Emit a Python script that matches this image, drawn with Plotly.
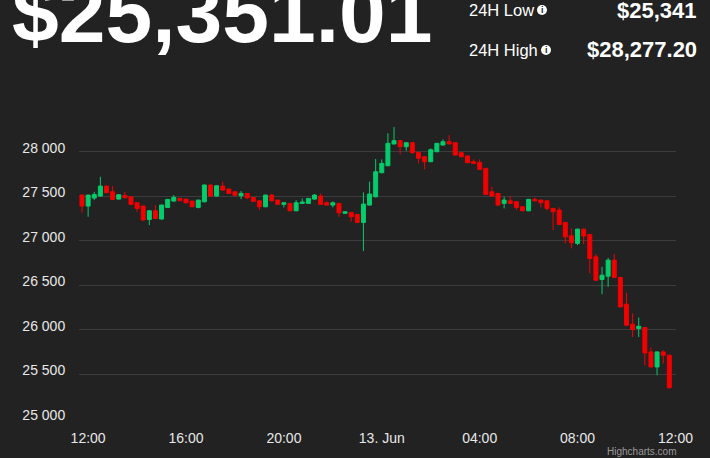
import plotly.graph_objects as go
import pandas as pd

# ---------------- data ----------------
times = pd.date_range("2023-06-12 11:45", periods=97, freq="15min")

opens = [27513, 27390, 27480, 27502, 27614, 27550, 27468, 27510, 27494, 27427,
         27390, 27240, 27337, 27244, 27375, 27446, 27476, 27468, 27446, 27375,
         27438, 27626, 27502, 27614, 27581, 27550, 27506, 27532, 27487, 27449,
         27382, 27513, 27457, 27409, 27420, 27337, 27420, 27420, 27468, 27502,
         27427, 27401, 27420, 27308, 27319, 27296, 27206, 27401, 27494, 27764,
         27843, 28087, 28124, 28056, 28101, 27993, 27944, 27888, 28000, 28075,
         28112, 28101, 27989, 27952, 27888, 27880, 27813, 27550, 27532, 27420,
         27449, 27438, 27382, 27337, 27465, 27457, 27449, 27364, 27345, 27206,
         27056, 26971, 27131, 27071, 26820, 26566, 26603, 26783, 26589, 26289,
         26064, 26016, 26027, 25753, 25584, 25753, 25716]
highs = [27520, 27518, 27550, 27719, 27625, 27614, 27522, 27550, 27500, 27432,
         27395, 27342, 27401, 27406, 27470, 27513, 27482, 27472, 27450, 27462,
         27632, 27630, 27622, 27663, 27586, 27555, 27558, 27537, 27492, 27454,
         27518, 27525, 27462, 27435, 27425, 27457, 27476, 27481, 27525, 27532,
         27446, 27442, 27425, 27332, 27324, 27301, 27543, 27663, 27918, 27914,
         28207, 28277, 28129, 28106, 28106, 27998, 27949, 28038, 28099, 28139,
         28187, 28106, 28000, 27957, 27914, 27914, 27818, 27607, 27537, 27494,
         27502, 27443, 27387, 27470, 27487, 27462, 27454, 27369, 27375, 27211,
         27139, 27136, 27136, 27076, 26851, 26708, 26809, 26851, 26594, 26416,
         26184, 26139, 26032, 25802, 25758, 25772, 25721]
lows = [27315, 27270, 27457, 27495, 27535, 27460, 27462, 27478, 27402, 27326,
        27228, 27176, 27244, 27238, 27370, 27440, 27445, 27422, 27376, 27364,
        27432, 27496, 27496, 27564, 27526, 27500, 27468, 27468, 27438, 27345,
        27376, 27444, 27404, 27375, 27332, 27332, 27415, 27415, 27462, 27404,
        27396, 27375, 27270, 27303, 27214, 27200, 26884, 27396, 27488, 27758,
        27838, 28082, 27971, 28011, 27980, 27869, 27802, 27883, 27995, 28070,
        28082, 27958, 27939, 27872, 27864, 27797, 27516, 27497, 27396, 27364,
        27415, 27345, 27332, 27332, 27442, 27375, 27340, 27120, 27179, 26971,
        26915, 26952, 26963, 26634, 26553, 26401, 26483, 26584, 26253, 26048,
        25921, 25921, 25603, 25579, 25491, 25622, 25341]
closes = [27390, 27513, 27520, 27614, 27540, 27465, 27517, 27483, 27409, 27364,
          27233, 27337, 27250, 27401, 27465, 27488, 27450, 27427, 27382, 27457,
          27626, 27502, 27618, 27569, 27532, 27510, 27532, 27483, 27443, 27382,
          27513, 27449, 27409, 27427, 27337, 27427, 27435, 27476, 27513, 27409,
          27401, 27427, 27315, 27326, 27270, 27206, 27412, 27525, 27775, 27869,
          28094, 28124, 28056, 28101, 27989, 27926, 27888, 28022, 28094, 28112,
          28087, 27963, 27944, 27877, 27869, 27802, 27521, 27502, 27401, 27457,
          27420, 27375, 27337, 27465, 27449, 27427, 27364, 27326, 27184, 27045,
          26978, 27131, 27053, 26802, 26558, 26614, 26783, 26589, 26258, 26053,
          26004, 26041, 25742, 25584, 25753, 25716, 25351]

y_tickvals = [25000, 25500, 26000, 26500, 27000, 27500, 28000]
y_ticktext = ["25 000", "25 500", "26 000", "26 500", "27 000", "27 500", "28 000"]
x_tickvals = ["2023-06-12 12:00", "2023-06-12 16:00", "2023-06-12 20:00",
              "2023-06-13 00:00", "2023-06-13 04:00", "2023-06-13 08:00",
              "2023-06-13 12:00"]
x_ticktext = ["12:00", "16:00", "20:00", "13. Jun", "04:00", "08:00", "12:00"]

price_text = "$25,351.01"
low_label, low_value = "24H Low", "$25,341"
high_label, high_value = "24H High", "$28,277.20"

# ---------------- style ----------------
BG = "#222222"
GREEN = "#04cc6c"
RED = "#f20000"
GRID = "#3c3c3c"
TXT = "#e8e8e8"
FONT = "Liberation Sans, Arial, sans-serif"

W, H = 710, 458
L, R, T, B = 79, 34, 120, 39
PW, PH = W - L - R, H - T - B


def px(x):
    return (x - L) / PW


def py(y):
    return (H - B - y) / PH


fig = go.Figure()
fig.add_trace(go.Candlestick(
    x=times, open=opens, high=highs, low=lows, close=closes,
    increasing=dict(line=dict(color=GREEN, width=1), fillcolor=GREEN),
    decreasing=dict(line=dict(color=RED, width=1), fillcolor=RED),
    whiskerwidth=0, showlegend=False, hoverinfo="x+y",
))

fig.update_layout(
    width=W, height=H,
    margin=dict(l=L, r=R, t=T, b=B, autoexpand=False),
    paper_bgcolor=BG, plot_bgcolor=BG,
    boxgap=0.35, boxgroupgap=0,
    font=dict(family=FONT, color=TXT),
    showlegend=False,
    xaxis=dict(
        type="date", rangeslider=dict(visible=False),
        range=["2023-06-12 11:37:36", "2023-06-13 12:01:24"],
        tickvals=x_tickvals, ticktext=x_ticktext,
        showgrid=False, zeroline=False, showline=False,
        ticks="outside", ticklen=6, tickcolor=BG,
        tickfont=dict(size=14, color=TXT, family=FONT),
    ),
    yaxis=dict(
        range=[25000, 28356],
        tickvals=y_tickvals, ticktext=y_ticktext,
        showgrid=True, gridcolor=GRID, gridwidth=1,
        zeroline=False, showline=False,
        ticks="outside", ticklen=10, tickcolor=BG,
        ticklabelshift=-4,
        tickfont=dict(size=14, color=TXT, family=FONT),
    ),
)

ann = []
ann.append(dict(text=price_text, x=px(10), y=py(13), xref="paper", yref="paper",
                xanchor="left", yanchor="middle", showarrow=False,
                font=dict(family=FONT, size=84, color="#ffffff", weight="bold")))
ann.append(dict(text=low_label, x=px(467), y=py(10), xref="paper", yref="paper",
                xanchor="left", yanchor="middle", showarrow=False,
                font=dict(family=FONT, size=16.5, color="#ffffff")))
ann.append(dict(text=high_label, x=px(467), y=py(50), xref="paper", yref="paper",
                xanchor="left", yanchor="middle", showarrow=False,
                font=dict(family=FONT, size=16.5, color="#ffffff")))
ann.append(dict(text=low_value, x=px(699), y=py(10), xref="paper", yref="paper",
                xanchor="right", yanchor="middle", showarrow=False,
                font=dict(family=FONT, size=22, color="#ffffff", weight="bold")))
ann.append(dict(text=high_value, x=px(699), y=py(50), xref="paper", yref="paper",
                xanchor="right", yanchor="middle", showarrow=False,
                font=dict(family=FONT, size=22, color="#ffffff", weight="bold")))
ann.append(dict(text="Highcharts.com", x=px(678), y=py(451), xref="paper", yref="paper",
                xanchor="right", yanchor="middle", showarrow=False,
                font=dict(family=FONT, size=10, color="#999999")))

shapes = []
for cx, cy in [(542, 10), (546, 50)]:
    shapes.append(dict(type="circle", xref="paper", yref="paper",
                       x0=px(cx - 5), x1=px(cx + 5), y0=py(cy + 5), y1=py(cy - 5),
                       fillcolor="#ffffff", line=dict(width=0), layer="above"))
    ann.append(dict(text="i", x=px(cx), y=py(cy), xref="paper", yref="paper",
                    xanchor="center", yanchor="middle", showarrow=False,
                    font=dict(family=FONT, size=9, color=BG, weight="bold")))

fig.update_layout(annotations=ann, shapes=shapes)
fig.write_html(
    "out.html",
    config={"displayModeBar": False},
    post_script="document.body.style.margin='0';document.body.style.background='#222222';",
)
